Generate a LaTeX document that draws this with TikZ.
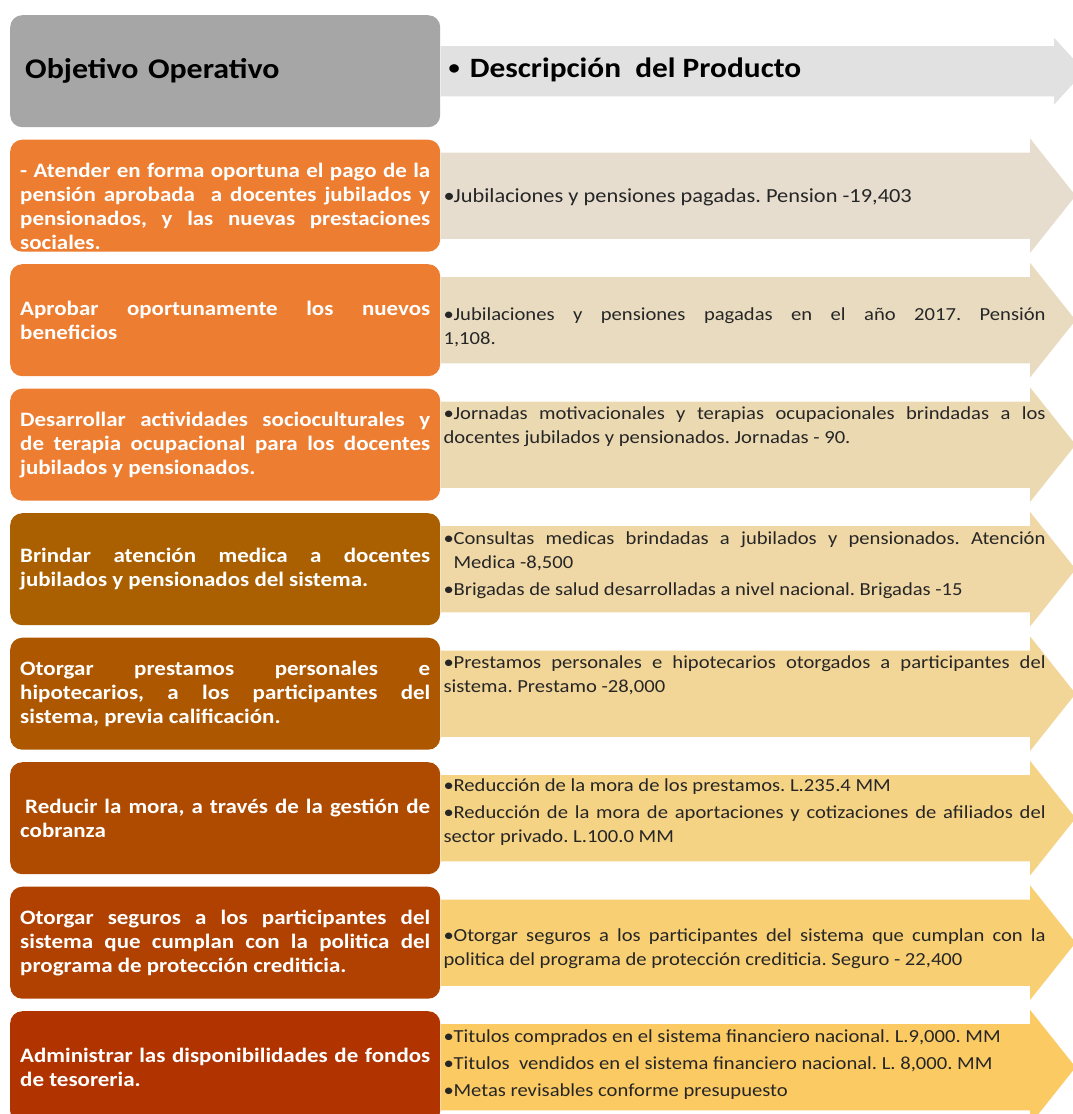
\documentclass[tikz,border=0pt]{standalone}
\usepackage{fontspec}
\setmainfont{Carlito}[FakeStretch=1.12]
\usepackage{xcolor}
\definecolor{cHead}{HTML}{A6A6A6}
\definecolor{cHeadArr}{HTML}{E1E1E1}
\definecolor{cOrange}{HTML}{ED7D31}
\definecolor{cBrown1}{HTML}{AA6000}
\definecolor{cBrown2}{HTML}{AD5700}
\definecolor{cBrown3}{HTML}{AE4B00}
\definecolor{cBrown4}{HTML}{B04100}
\definecolor{cBrown5}{HTML}{B13400}
\definecolor{cSand1}{HTML}{E6DDCF}
\definecolor{cSand2}{HTML}{E8DBC0}
\definecolor{cSand3}{HTML}{EBD9B2}
\definecolor{cSand4}{HTML}{F0D8A6}
\definecolor{cSand5}{HTML}{F2D697}
\definecolor{cSand6}{HTML}{F5D385}
\definecolor{cSand7}{HTML}{F8CF72}
\definecolor{cSand8}{HTML}{FBCA63}
\definecolor{cText}{HTML}{262626}
\usepackage{tikz}
\usetikzlibrary{positioning,shapes.arrows}
% bullet with hanging indent for the product lists
\newcommand{\prodItem}{\par\noindent\hangindent=10pt\hangafter=1%
  \makebox[10pt][l]{\textbullet}}
\tikzset{
  obj-box/.style={rounded corners=12pt,minimum width=430pt,
    minimum height=112pt,text width=410pt,inner xsep=10pt,inner ysep=4pt,
    align=justify,text=white,font=\bfseries\fontsize{20.5}{24}\selectfont},
  prod-arrow/.style={single arrow,single arrow head extend=14pt,
    single arrow tip angle=103,minimum height=635pt,inner xsep=0pt,
    inner ysep=43pt},
  head-arrow/.style={single arrow,single arrow head extend=8pt,
    single arrow tip angle=95,minimum height=644pt,inner xsep=0pt,
    inner ysep=25pt,fill=cHeadArr},
  prod-text/.style={text width=602pt,inner sep=0pt,align=justify,
    text=cText,font=\fontsize{18.4}{24}\selectfont\setlength{\parskip}{3pt},
    execute at end node=\par},
  head-text/.style={inner sep=0pt,text=black,
    font=\bfseries\fontsize{28}{30}\selectfont},
}

\begin{document}
\frenchspacing
\begin{tikzpicture}[node distance=12.1pt]
  \clip (0pt,0pt) rectangle (1073pt,-1114pt);
  % column headers
  \node[obj-box,fill=cHead,anchor=north west,text=black,align=left,
    text width=400pt,inner xsep=15pt,font=\bfseries\fontsize{28.5}{30}\selectfont]
    (hdr) at (10pt,-15pt) {Objetivo Operativo};
  \node[head-arrow,right=0pt of hdr.east] (hdr-arr) {};
  \node[head-text,right=8pt of hdr.east,yshift=1pt] (hdr-txt)
    {\raisebox{3pt}{\fontsize{20}{20}\selectfont\textbullet}\hspace{10pt}%
    Descripción\ \ del Producto};

  % objectives (left) and products (arrows)
  \node[obj-box,fill=cOrange,below=of hdr,inner ysep=0pt] (obj1)
    {\rule{0pt}{35pt}- Atender en forma oportuna
    el pago de la\linebreak pensión aprobada\ \ a docentes jubilados y\linebreak
    pensionados, y las nuevas prestaciones\linebreak sociales.};
  \node[prod-arrow,fill=cSand1,right=0pt of obj1.east] (arr1) {};
  \node[prod-text,right=3pt of obj1.east,yshift=3pt,
    font=\fontsize{20}{24}\selectfont] (prod1)
    {\prodItem Jubilaciones y pensiones pagadas. Pension -19,403};

  \node[obj-box,fill=cOrange,below=of obj1] (obj2)
    {Aprobar oportunamente los nuevos\linebreak beneficios};
  \node[prod-arrow,fill=cSand2,right=0pt of obj2.east] (arr2) {};
  \node[prod-text,right=3pt of obj2.east] (prod2)
    {\prodItem Jubilaciones y pensiones pagadas en el año 2017. Pensión\linebreak
    1,108.};

  \node[obj-box,fill=cOrange,below=of obj2] (obj3) {Desarrollar actividades
    socioculturales y\linebreak de terapia ocupacional para los
    docentes\linebreak jubilados y pensionados.};
  \node[prod-arrow,fill=cSand3,right=0pt of obj3.east] (arr3) {};
  \node[prod-text,below right=4pt and 3pt of obj3.north east] (prod3)
    {\prodItem Jornadas motivacionales y terapias ocupacionales brindadas a
    los\linebreak docentes jubilados y pensionados. Jornadas - 90.};

  \node[obj-box,fill=cBrown1,below=of obj3] (obj4) {Brindar atención medica a
    docentes\linebreak jubilados y pensionados del sistema.};
  \node[prod-arrow,fill=cSand4,right=0pt of obj4.east] (arr4) {};
  \node[prod-text,below right=4pt and 3pt of obj4.north east] (prod4)
    {\prodItem Consultas medicas brindadas a jubilados y pensionados.
    Atención\linebreak Medica -8,500
    \prodItem Brigadas de salud desarrolladas a nivel nacional. Brigadas -15};

  \node[obj-box,fill=cBrown2,below=of obj4] (obj5) {Otorgar prestamos personales
    e\linebreak hipotecarios, a los participantes del\linebreak sistema, previa
    calificación.};
  \node[prod-arrow,fill=cSand5,right=0pt of obj5.east] (arr5) {};
  \node[prod-text,below right=4pt and 3pt of obj5.north east] (prod5)
    {\prodItem Prestamos personales e hipotecarios otorgados a participantes
    del\linebreak sistema. Prestamo -28,000};

  \node[obj-box,fill=cBrown3,below=of obj5] (obj6) {\hspace*{5pt}Reducir la mora,
    a través de la gestión de\linebreak cobranza};
  \node[prod-arrow,fill=cSand6,right=0pt of obj6.east] (arr6) {};
  \node[prod-text,below right=2pt and 3pt of obj6.north east] (prod6)
    {\prodItem Reducción de la mora de los prestamos. L.235.4 MM
    \prodItem Reducción de la mora de aportaciones y cotizaciones de afiliados
    del\linebreak sector privado. L.100.0 MM};

  \node[obj-box,fill=cBrown4,below=of obj6] (obj7) {Otorgar seguros a los
    participantes del\linebreak sistema que cumplan con la politica
    del\linebreak programa de protección crediticia.};
  \node[prod-arrow,fill=cSand7,right=0pt of obj7.east] (arr7) {};
  \node[prod-text,right=3pt of obj7.east,yshift=1pt] (prod7)
    {\prodItem Otorgar seguros a los participantes del sistema que cumplan con
    la\linebreak politica del programa de protección crediticia. Seguro - 22,400};

  \node[obj-box,fill=cBrown5,below=of obj7] (obj8) {Administrar las
    disponibilidades de fondos\linebreak de tesoreria.};
  \node[prod-arrow,fill=cSand8,right=0pt of obj8.east] (arr8) {};
  \node[prod-text,below right=4pt and 3pt of obj8.north east] (prod8)
    {\prodItem Titulos comprados en el sistema financiero nacional. L.9,000. MM
    \prodItem Titulos\ \ vendidos en el sistema financiero nacional. L. 8,000. MM
    \prodItem Metas revisables conforme presupuesto};
\end{tikzpicture}
\end{document}
